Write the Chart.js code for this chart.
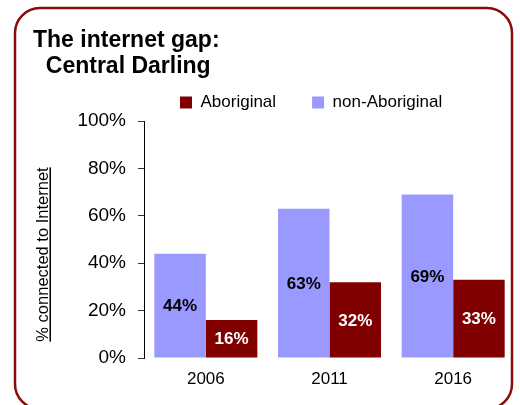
<!DOCTYPE html>
<html>
<head>
<meta charset="utf-8">
<script src="https://cdn.jsdelivr.net/npm/chart.js@4.4.0/dist/chart.umd.min.js"></script>
<style>
  html, body { margin: 0; padding: 0; background: #fff; }
  canvas { display: block; }
</style>
</head>
<body>
<canvas id="c" width="520" height="405"></canvas>
<script>
const years = ['2006', '2011', '2016'];
const aboriginal = [16, 32, 33];
const nonAboriginal = [44, 63, 69];
const yTicks = [0, 20, 40, 60, 80, 100];
const titleLines = ['The internet gap:', '  Central Darling'];
const yTitle = '% connected to Internet';

const FONT = 'Liberation Sans, Arial, sans-serif';
Chart.defaults.font.family = FONT;
Chart.defaults.color = '#000';

const framePlugin = {
  id: 'frame',
  beforeDraw(chart) {
    const ctx = chart.ctx;
    ctx.save();
    ctx.fillStyle = '#fff';
    ctx.fillRect(0, 0, chart.width, chart.height);
    ctx.strokeStyle = '#8a0b0b';
    ctx.lineWidth = 2.5;
    ctx.beginPath();
    ctx.roundRect(15, 8, 497, 401, 25);
    ctx.stroke();
    ctx.restore();
  }
};

const yTitlePlugin = {
  id: 'ytitle',
  afterDraw(chart) {
    const ctx = chart.ctx;
    ctx.save();
    ctx.font = '16.5px ' + FONT;
    ctx.fillStyle = '#000';
    const w = ctx.measureText(yTitle).width;
    ctx.translate(47.5, 254.5);
    ctx.rotate(-Math.PI / 2);
    ctx.textAlign = 'center';
    ctx.textBaseline = 'alphabetic';
    ctx.fillText(yTitle, 0, 0);
    ctx.fillRect(-w / 2, 2, w, 1.5);
    ctx.restore();
  }
};

const valueLabelPlugin = {
  id: 'valueLabels',
  afterDatasetsDraw(chart) {
    const ctx = chart.ctx;
    ctx.save();
    ctx.font = 'bold 17px ' + FONT;
    ctx.textAlign = 'center';
    ctx.textBaseline = 'middle';
    chart.data.datasets.forEach((ds, di) => {
      const meta = chart.getDatasetMeta(di);
      ctx.fillStyle = ds.labelColor;
      meta.data.forEach((el, i) => {
        const p = el.getProps(['x', 'y', 'base'], true);
        ctx.fillText(ds.data[i] + '%', p.x, (p.y + p.base) / 2 + 1);
      });
    });
    ctx.restore();
  }
};

new Chart(document.getElementById('c'), {
  type: 'bar',
  data: {
    labels: years,
    datasets: [
      { label: 'non-Aboriginal', data: nonAboriginal, backgroundColor: '#9999ff', labelColor: '#000',
        categoryPercentage: 0.833, barPercentage: 1.0 },
      { label: 'Aboriginal', data: aboriginal, backgroundColor: '#800000', labelColor: '#fff',
        categoryPercentage: 0.833, barPercentage: 1.0 }
    ]
  },
  options: {
    responsive: false,
    animation: false,
    devicePixelRatio: 1,
    layout: { padding: { left: 33, right: 5, top: 0, bottom: 4.6 } },
    plugins: {
      title: {
        display: true,
        text: titleLines,
        align: 'start',
        color: '#000',
        font: { size: 23, weight: 'bold', lineHeight: 26.4 / 23 },
        padding: { top: 27, bottom: -21.8 }
      },
      legend: {
        display: true,
        position: 'top',
        align: 'start',
        fullSize: false,
        reverse: true,
        labels: {
          boxWidth: 12,
          boxHeight: 12,
          padding: 36,
          color: '#000',
          font: { size: 17 }
        }
      },
      tooltip: { enabled: false }
    },
    scales: {
      x: {
        grid: { display: false, drawTicks: false },
        border: { display: false },
        ticks: { padding: 11, font: { size: 17 }, color: '#000' }
      },
      y: {
        min: 0,
        max: 100,
        afterBuildTicks(scale) { scale.ticks = yTicks.map(v => ({ value: v })); },
        afterFit(scale) { scale.width = 111; },
        grid: { display: true, drawOnChartArea: false, drawTicks: true, tickLength: 6, color: '#333' },
        border: { display: true, color: '#000', width: 1 },
        ticks: { padding: 12, font: { size: 19 }, color: '#000', callback: v => v + '%' }
      }
    }
  },
  plugins: [framePlugin, valueLabelPlugin, yTitlePlugin]
});
</script>
</body>
</html>
